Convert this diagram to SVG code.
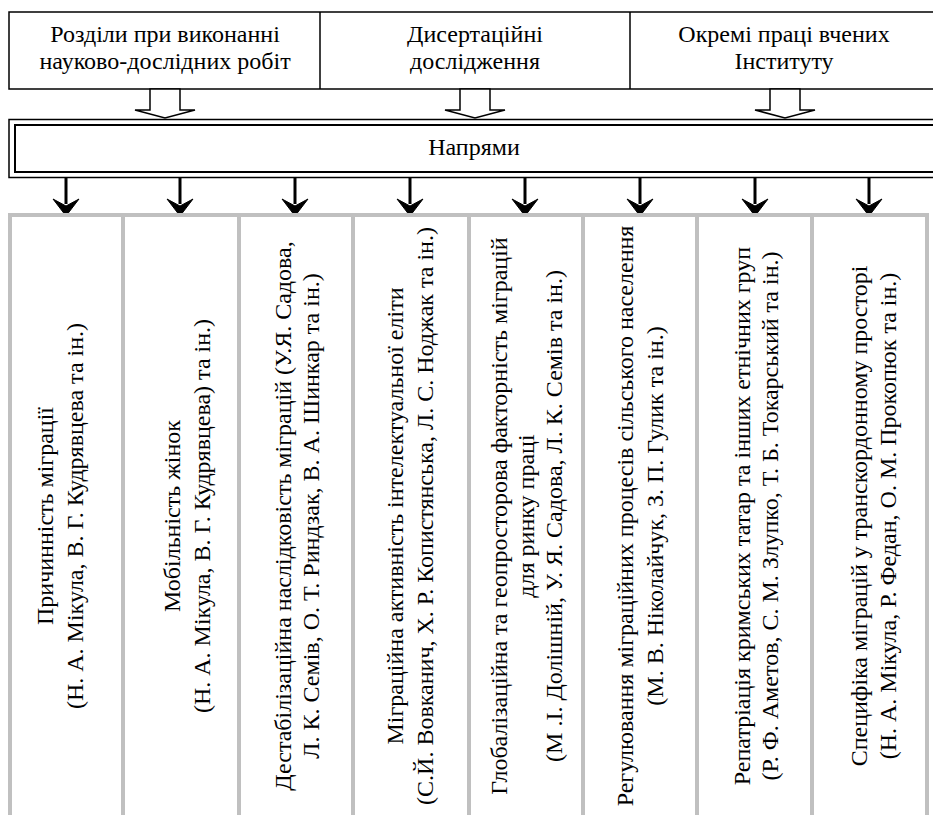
<svg xmlns="http://www.w3.org/2000/svg" width="933" height="815" viewBox="0 0 933 815">
<style>
.c{text-anchor:middle;fill:#000}
.box{fill:#fff;stroke:#000;stroke-width:1.5}
.hollow{fill:#fff;stroke:#000;stroke-width:1.5;stroke-linejoin:miter}
.grid{stroke:#c0c0c0;stroke-width:4;fill:none}
.shaft{stroke:#000;stroke-width:3}
</style>
<defs>
<path id="head" d="M-13,199 L0,216 L13,199 L0,206 Z" fill="#000" stroke="#000" stroke-width="1"/>
</defs>
<rect width="933" height="815" fill="#fff"/>

<g id="sources">
<rect class="box" x="9" y="12" width="940" height="77"/>
<line x1="320" y1="12" x2="320" y2="89" stroke="#000" stroke-width="1.5"/>
<line x1="630" y1="12" x2="630" y2="89" stroke="#000" stroke-width="1.5"/>
</g>
<g id="src1"><text class="c" font-family="Liberation Serif" font-size="24" x="165" y="42">Розділи при виконанні</text><text class="c" font-family="Liberation Serif" font-size="24" x="165" y="69">науково-дослідних робіт</text></g>
<g id="src2"><text class="c" font-family="Liberation Serif" font-size="24" x="475" y="42">Дисертаційні</text><text class="c" font-family="Liberation Serif" font-size="24" x="475" y="69">дослідження</text></g>
<g id="src3"><text class="c" font-family="Liberation Serif" font-size="24" x="784" y="42">Окремі праці вчених</text><text class="c" font-family="Liberation Serif" font-size="24" x="784" y="69">Інституту</text></g>

<g id="napryamy">
<rect x="9" y="119.5" width="940" height="58" fill="#fff" stroke="#000" stroke-width="1.5"/>
<rect x="15" y="125" width="930" height="47" fill="none" stroke="#000" stroke-width="2"/>
<text class="c" font-family="Liberation Serif" font-size="24" x="474" y="155">Напрями</text>
</g>

<g id="connectors">
<polygon class="hollow" points="150,89 150,110 135,110 165,118 195,110 180,110 180,89"/>
<polygon class="hollow" points="460,89 460,110 445,110 475,118 505,110 490,110 490,89"/>
<polygon class="hollow" points="770,89 770,110 755,110 785,118 815,110 800,110 800,89"/>
<g transform="translate(66,0)"><line class="shaft" x1="0" y1="177" x2="0" y2="204"/><use href="#head"/></g>
<g transform="translate(180,0)"><line class="shaft" x1="0" y1="177" x2="0" y2="204"/><use href="#head"/></g>
<g transform="translate(295,0)"><line class="shaft" x1="0" y1="177" x2="0" y2="204"/><use href="#head"/></g>
<g transform="translate(410,0)"><line class="shaft" x1="0" y1="177" x2="0" y2="204"/><use href="#head"/></g>
<g transform="translate(525,0)"><line class="shaft" x1="0" y1="177" x2="0" y2="204"/><use href="#head"/></g>
<g transform="translate(640,0)"><line class="shaft" x1="0" y1="177" x2="0" y2="204"/><use href="#head"/></g>
<g transform="translate(755,0)"><line class="shaft" x1="0" y1="177" x2="0" y2="204"/><use href="#head"/></g>
<g transform="translate(869,0)"><line class="shaft" x1="0" y1="177" x2="0" y2="204"/><use href="#head"/></g>
</g>

<g id="columns" class="grid">
<line x1="8" y1="215" x2="929" y2="215"/>
<line x1="10" y1="213" x2="10" y2="815"/>
<line x1="123" y1="213" x2="123" y2="815"/>
<line x1="239" y1="213" x2="239" y2="815"/>
<line x1="353" y1="213" x2="353" y2="815"/>
<line x1="469" y1="213" x2="469" y2="815"/>
<line x1="583" y1="213" x2="583" y2="815"/>
<line x1="697" y1="213" x2="697" y2="815"/>
<line x1="812" y1="213" x2="812" y2="815"/>
<line x1="927" y1="213" x2="927" y2="815"/>
</g>

<g id="dir1"><text class="c" font-family="Liberation Serif" font-size="24" transform="translate(53,516) rotate(-90)">Причинність міграції</text><text class="c" font-family="Liberation Serif" font-size="24" transform="translate(83,516) rotate(-90)">(Н. А. Мікула, В. Г. Кудрявцева та ін.)</text></g>
<g id="dir2"><text class="c" font-family="Liberation Serif" font-size="24" transform="translate(180,516) rotate(-90)">Мобільність жінок</text><text class="c" font-family="Liberation Serif" font-size="24" transform="translate(210,516) rotate(-90)">(Н. А. Мікула, В. Г. Кудрявцева) та ін.)</text></g>
<g id="dir3"><text class="c" font-family="Liberation Serif" font-size="24" transform="translate(291,516) rotate(-90)">Дестабілізаційна наслідковість міграцій (У.Я. Садова,</text><text class="c" font-family="Liberation Serif" font-size="24" transform="translate(319,516) rotate(-90)">Л. К. Семів, О. Т. Риндзак, В. А. Шинкар та ін.)</text></g>
<g id="dir4"><text class="c" font-family="Liberation Serif" font-size="24" transform="translate(403,516) rotate(-90)">Міграційна активність інтелектуальної еліти</text><text class="c" font-family="Liberation Serif" font-size="24" transform="translate(433,516) rotate(-90)">(С.Й. Вовканич, Х. Р. Копистянська, Л. С. Ноджак та ін.)</text></g>
<g id="dir5"><text class="c" font-family="Liberation Serif" font-size="24" transform="translate(507,516) rotate(-90)">Глобалізаційна та геопросторова факторність міграцій</text><text class="c" font-family="Liberation Serif" font-size="24" transform="translate(534,516) rotate(-90)">для ринку праці</text><text class="c" font-family="Liberation Serif" font-size="24" transform="translate(562,516) rotate(-90)">(М .І. Долішній, У. Я. Садова, Л. К. Семів та ін.)</text></g>
<g id="dir6"><text class="c" font-family="Liberation Serif" font-size="24" transform="translate(633,516) rotate(-90)">Регулювання міграційних процесів сільського населення</text><text class="c" font-family="Liberation Serif" font-size="24" transform="translate(663,516) rotate(-90)">(М. В. Ніколайчук, З. П. Гулик та ін.)</text></g>
<g id="dir7"><text class="c" font-family="Liberation Serif" font-size="24" transform="translate(750,516) rotate(-90)">Репатріація кримських татар та інших етнічних груп</text><text class="c" font-family="Liberation Serif" font-size="24" transform="translate(778,516) rotate(-90)">(Р. Ф. Аметов, С. М. Злупко, Т. Б. Токарський та ін.)</text></g>
<g id="dir8"><text class="c" font-family="Liberation Serif" font-size="24" transform="translate(867,516) rotate(-90)">Специфіка міграцій у транскордонному просторі</text><text class="c" font-family="Liberation Serif" font-size="24" transform="translate(896,516) rotate(-90)">(Н. А. Мікула, Р. Федан, О. М. Прокопюк та ін.)</text></g>
</svg>
